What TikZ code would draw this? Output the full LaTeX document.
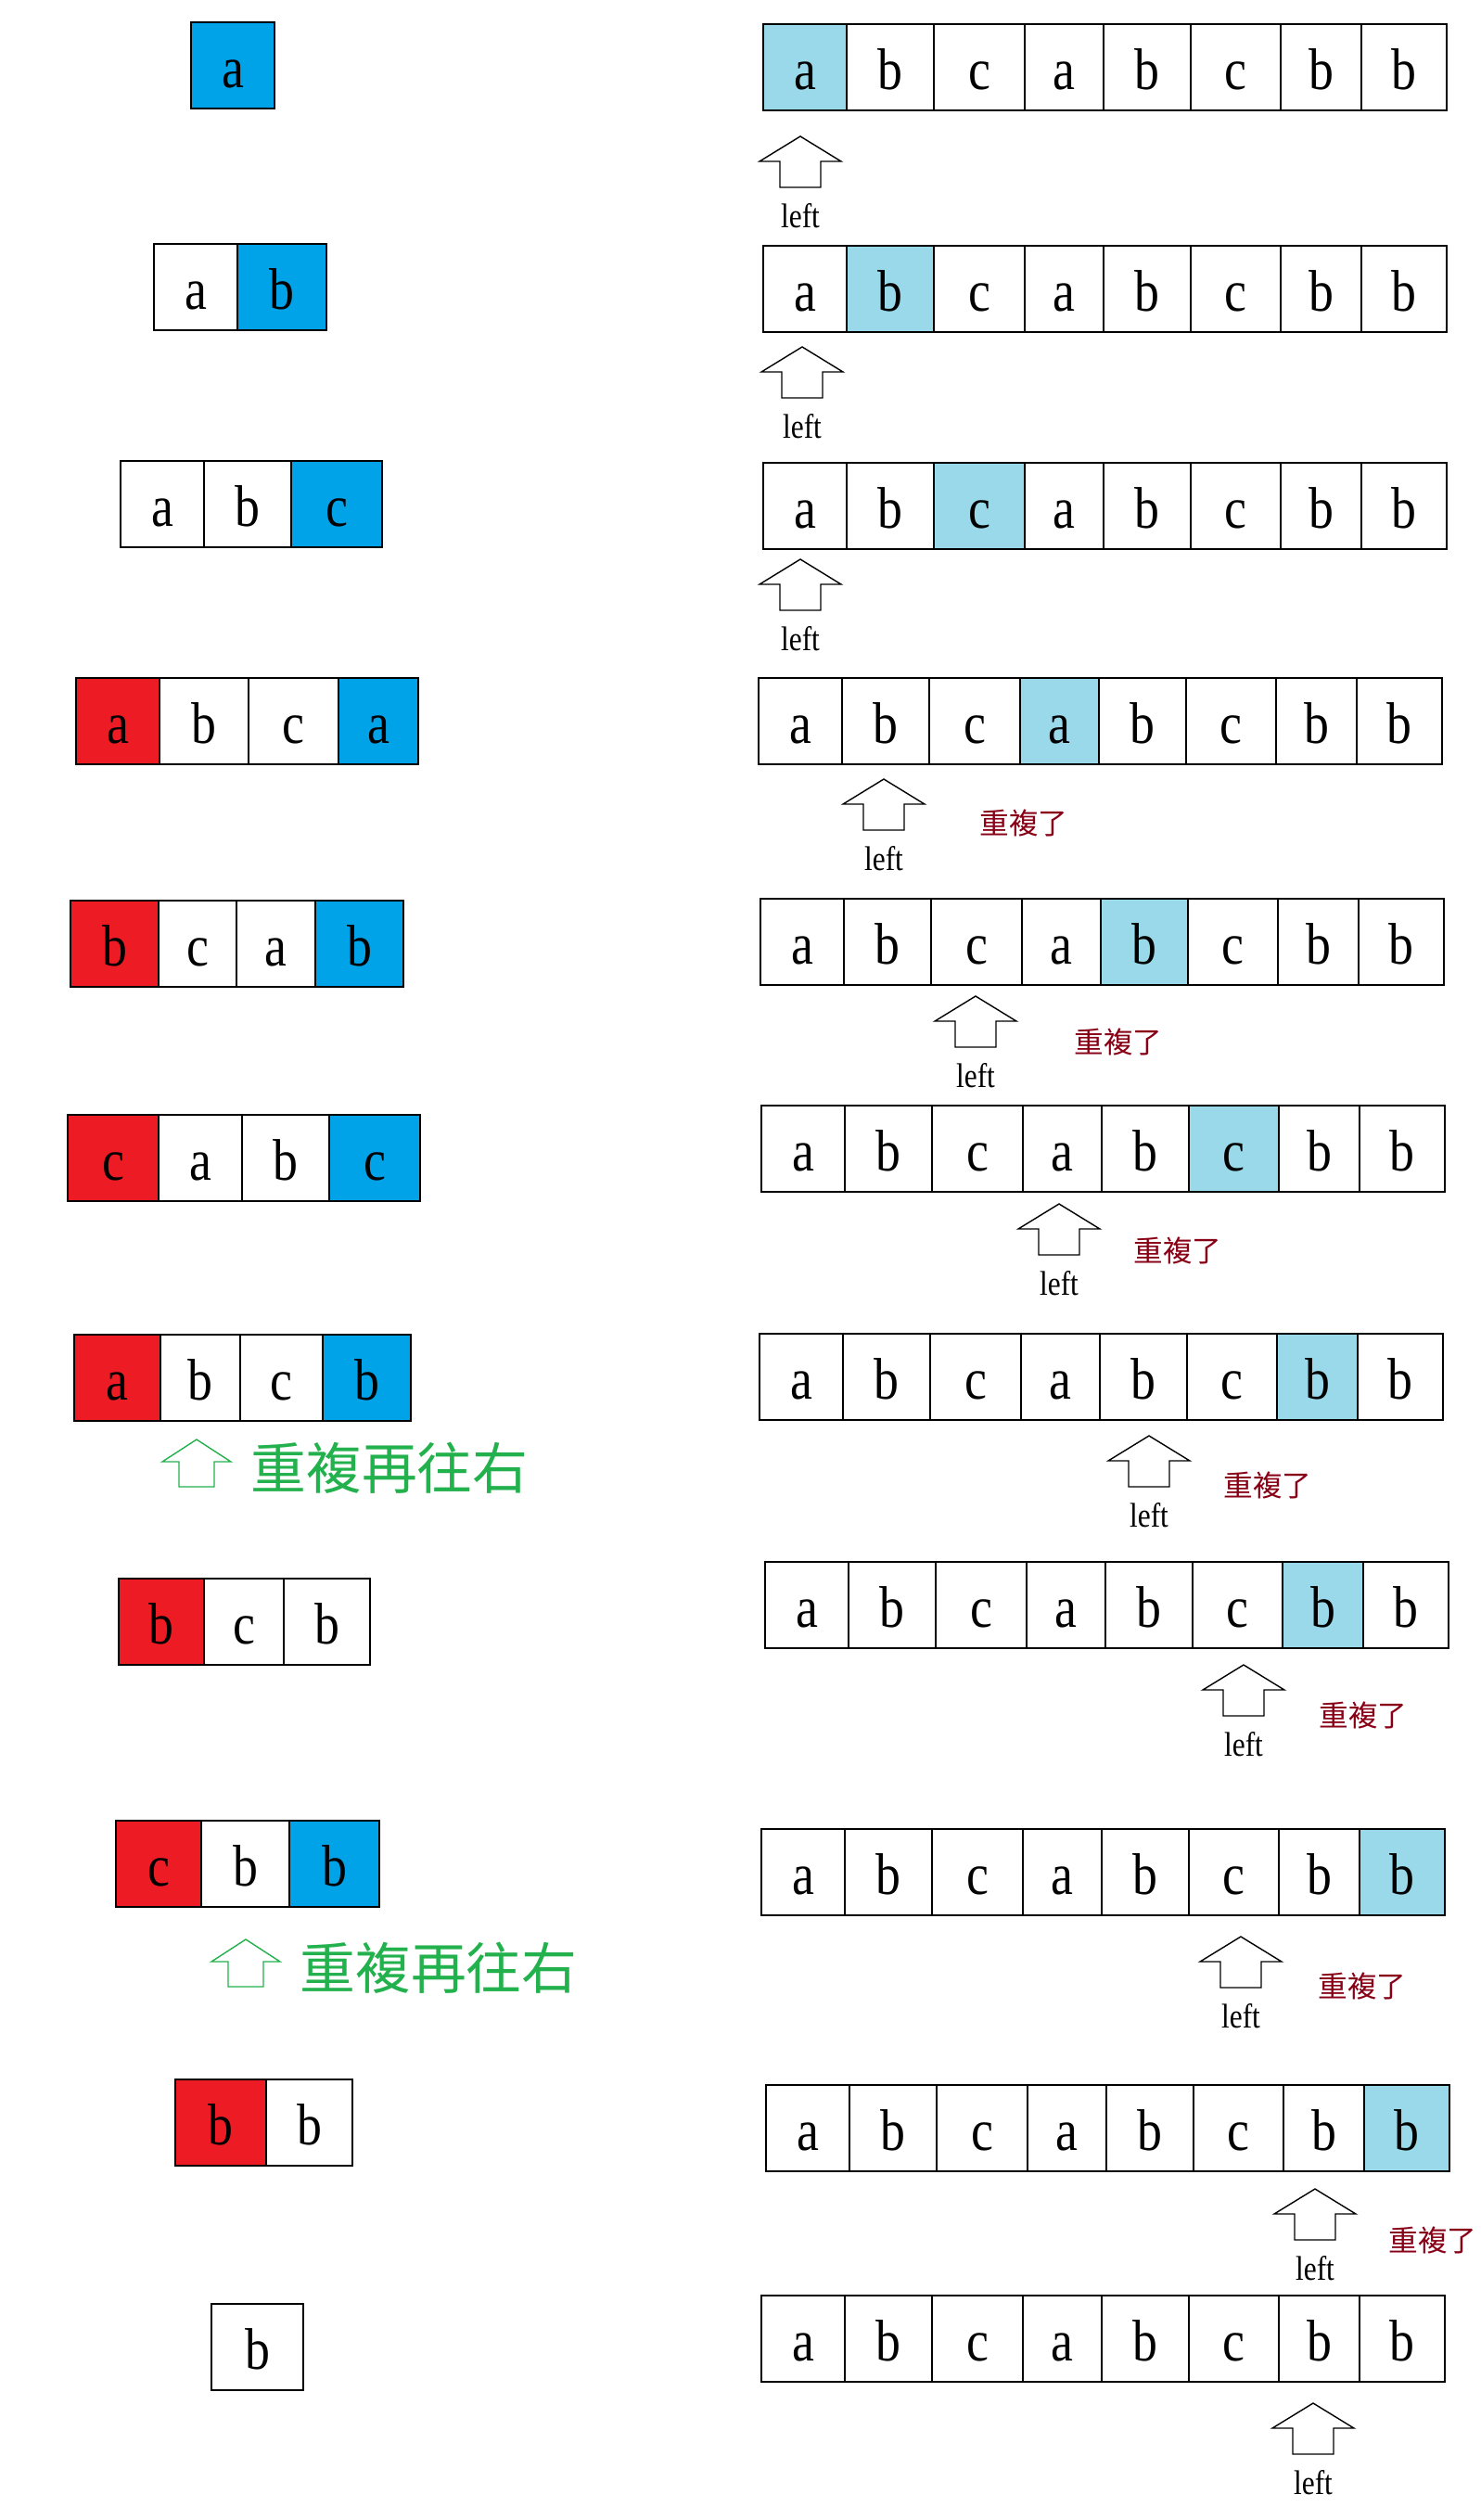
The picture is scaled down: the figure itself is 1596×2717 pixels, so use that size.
\documentclass[tikz,border=0pt]{standalone}
\usepackage{fontspec}
\setmainfont{Liberation Serif}[FakeStretch=0.85]
\newfontfamily\cjk{Noto Sans CJK TC}
\usepackage{xcolor}
\usepackage{tikz}

\definecolor{pred}{HTML}{ED1C24}
\definecolor{pblue}{HTML}{00A2E8}
\definecolor{plight}{HTML}{99D9EA}
\definecolor{pgreen}{HTML}{22B14C}
\definecolor{pdark}{HTML}{880015}

\begin{document}
\begin{tikzpicture}[
  x=0.01cm, y=-0.01cm,
  cell/.style={draw, line width=0.4pt, inner sep=0pt, minimum height=93*0.01cm, text height=13.4pt, text depth=0pt, font=\fontsize{18}{18}\selectfont},
  ptr/.style={draw, line width=0.4pt},
  gptr/.style={draw=pgreen, line width=0.4pt},
  ptrlabel/.style={inner sep=0pt, font=\fontsize{10.5}{10.5}\selectfont},
  dup/.style={text=pdark, inner sep=0pt, font=\cjk\fontsize{9}{9}\selectfont},
  again/.style={text=pgreen, inner sep=0pt, font=\cjk\fontsize{17}{17}\selectfont}
]
  \useasboundingbox (0,0) rectangle (1596,2717);

  % window on the left: red = first, blue = newest
  \foreach \r/\ty/\cells in {
    1/24/{206/296/a/pblue},
    2/263/{166/256/a/white, 256/352/b/pblue},
    3/497/{130/220/a/white, 220/314/b/white, 314/412/c/pblue},
    4/731/{82/172/a/pred, 172/268/b/white, 268/365/c/white, 365/451/a/pblue},
    5/971/{76/171/b/pred, 171/255/c/white, 255/340/a/white, 340/435/b/pblue},
    6/1202/{73/171/c/pred, 171/261/a/white, 261/355/b/white, 355/453/c/pblue},
    7/1439/{80/173/a/pred, 173/259/b/white, 259/348/c/white, 348/443/b/pblue},
    8/1702/{128/220/b/pred, 220/306/c/white, 306/399/b/white},
    9/1963/{125/217/c/pred, 217/312/b/white, 312/409/b/pblue},
    10/2242/{189/287/b/pred, 287/380/b/white},
    11/2484/{228/327/b/white}}
  {
    \foreach \xa/\xb/\ch/\fc [count=\c] in \cells
      \node[cell, fill=\fc, minimum width={(\xb-\xa)*0.01cm}] (w\r-\c) at ({(\xa+\xb)/2},{\ty+46.5}) {\ch};
  }

  % green hints
  \foreach \r/\gx/\gy/\tx/\tyy in {7/212/1552/420/1583, 9/265/2091/473/2122} {
    \draw[gptr] (\gx,\gy) -- ++(37,24) -- ++(-18,0) -- ++(0,27) -- ++(-38,0) -- ++(0,-27) -- ++(-18,0) -- cycle;
    \node[again] (again\r) at (\tx,\tyy) {重複再往右};
  }

  % string on the right with the left pointer
  \foreach \r/\lx/\ty/\hl/\ax/\at in {
    1/823/26/1/863/147,
    2/823/265/2/865/374,
    3/823/499/3/863/603,
    4/818/731/4/953/840,
    5/820/969/5/1052/1074,
    6/821/1192/6/1142/1298,
    7/819/1438/7/1239/1548,
    8/825/1684/7/1341/1795,
    9/821/1972/8/1338/2088,
    10/826/2248/8/1418/2360,
    11/821/2475/0/1416/2591}
  {
    \foreach \c/\o/\w/\ch in {1/0/90/a, 2/90/94/b, 3/184/98/c, 4/282/85/a, 5/367/94/b, 6/461/97/c, 7/558/87/b, 8/645/92/b}
    {
      \ifnum\c=\hl \def\fc{plight}\else\def\fc{white}\fi
      \node[cell, fill=\fc, minimum width={\w*0.01cm}] (s\r-\c) at ({\lx+\o+\w/2},{\ty+46.5}) {\ch};
    }
    \draw[ptr] (\ax,\at) -- ++(44,27) -- ++(-22,0) -- ++(0,28) -- ++(-44,0) -- ++(0,-28) -- ++(-22,0) -- cycle;
    \node[ptrlabel] (left\r) at (\ax,\at+86) {left};
  }

  \foreach \r/\dx/\dy in {4/1104/887, 5/1206/1123, 6/1270/1348, 7/1367/1601, 8/1470/1849, 9/1469/2141, 10/1545/2415}
    \node[dup] (dup\r) at (\dx,\dy) {重複了};
\end{tikzpicture}
\end{document}
